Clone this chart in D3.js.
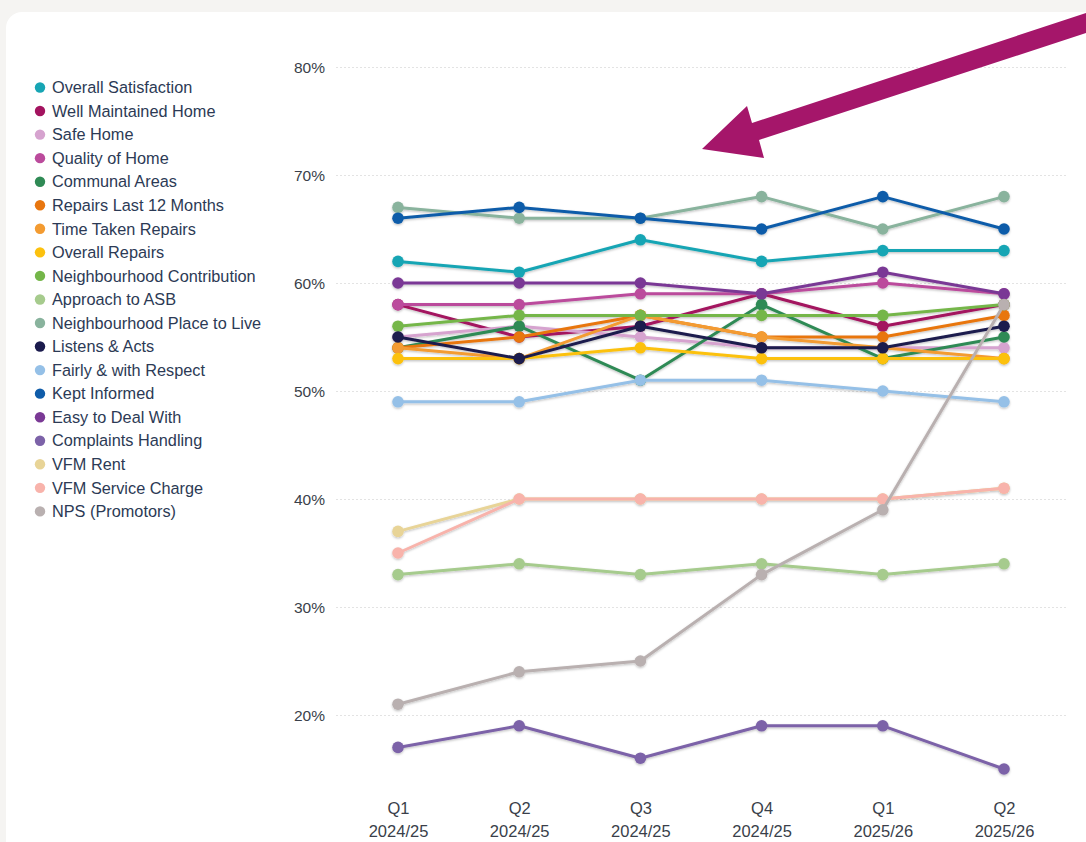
<!DOCTYPE html>
<html>
<head>
<meta charset="utf-8">
<script src="https://cdn.jsdelivr.net/npm/d3@7"></script>
<style>
  html, body { margin: 0; padding: 0; background: #f5f4f2; }
  svg { display: block; font-family: "Liberation Sans", Arial, sans-serif; }
</style>
</head>
<body>
<svg id="chart" width="1086" height="842"></svg>
<script>
// quarters along the x axis
var quarters = ['Q1', 'Q2', 'Q3', 'Q4', 'Q1', 'Q2'];
var years = ['2024/25', '2024/25', '2024/25', '2024/25', '2025/26', '2025/26'];

var yTicks = [20, 30, 40, 50, 60, 70, 80];

var seriesNames = [
    'Overall Satisfaction', 'Well Maintained Home', 'Safe Home', 'Quality of Home',
    'Communal Areas', 'Repairs Last 12 Months', 'Time Taken Repairs', 'Overall Repairs',
    'Neighbourhood Contribution', 'Approach to ASB', 'Neighbourhood Place to Live',
    'Listens & Acts', 'Fairly & with Respect', 'Kept Informed', 'Easy to Deal With',
    'Complaints Handling', 'VFM Rent', 'VFM Service Charge', 'NPS (Promotors)'
];

var seriesColors = [
    '#17a5b4', '#a3135f', '#d6a3cf', '#bb4b9c',
    '#2f8a55', '#e8760f', '#f39b31', '#fcc10e',
    '#74b649', '#a6cb8d', '#89b39d',
    '#1b1b4d', '#95c0e7', '#0f5ca9', '#7a3995',
    '#7c62a8', '#e8d497', '#f8b3ab', '#b9b0b0'
];

// values in %, one per quarter
var overallSatisfaction = [62, 61, 64, 62, 63, 63];
var wellMaintained      = [58, 55, 56, 59, 56, 58];
var safeHome            = [55, 56, 55, 54, 54, 54];
var qualityOfHome       = [58, 58, 59, 59, 60, 59];
var communalAreas       = [54, 56, 51, 58, 53, 55];
var repairsLast12       = [54, 55, 57, 55, 55, 57];
var timeTakenRepairs    = [54, 53, 57, 55, 54, 53];
var overallRepairs      = [53, 53, 54, 53, 53, 53];
var neighContribution   = [56, 57, 57, 57, 57, 58];
var approachASB         = [33, 34, 33, 34, 33, 34];
var neighPlaceToLive    = [67, 66, 66, 68, 65, 68];
var listensActs         = [55, 53, 56, 54, 54, 56];
var fairlyRespect       = [49, 49, 51, 51, 50, 49];
var keptInformed        = [66, 67, 66, 65, 68, 65];
var easyToDeal          = [60, 60, 60, 59, 61, 59];
var complaints          = [17, 19, 16, 19, 19, 15];
var vfmRent             = [37, 40, 40, 40, 40, 41];
var vfmServiceCharge    = [35, 40, 40, 40, 40, 41];
var npsPromotors        = [21, 24, 25, 33, 39, 58];

var seriesValues = [
    overallSatisfaction, wellMaintained, safeHome, qualityOfHome,
    communalAreas, repairsLast12, timeTakenRepairs, overallRepairs,
    neighContribution, approachASB, neighPlaceToLive,
    listensActs, fairlyRespect, keptInformed, easyToDeal,
    complaints, vfmRent, vfmServiceCharge, npsPromotors
];

var svg = d3.select('#chart');

// white card
svg.append('rect')
    .attr('x', 6).attr('y', 12)
    .attr('width', 1100).attr('height', 860)
    .attr('rx', 16)
    .attr('fill', '#ffffff');

var defs = svg.append('defs');
var shadow = defs.append('filter').attr('id', 'shadow')
    .attr('x', '-5%').attr('y', '-20%').attr('width', '110%').attr('height', '140%');
shadow.append('feDropShadow')
    .attr('dx', 0).attr('dy', 1.2).attr('stdDeviation', 0.8)
    .attr('flood-color', '#000').attr('flood-opacity', 0.25);

var x = d3.scalePoint().domain(d3.range(quarters.length)).range([398, 1004]);
var y = d3.scaleLinear().domain([20, 80]).range([715, 67]);

// gridlines + y labels
var yAxis = d3.axisLeft(y).tickValues(yTicks)
    .tickFormat(function(d) { return d + '%'; })
    .tickSize(-(1066 - 336)).tickPadding(10);
var gy = svg.append('g').attr('transform', 'translate(336,0)').call(yAxis);
gy.select('.domain').remove();
gy.selectAll('.tick line')
    .attr('stroke', '#e3e3e3').attr('stroke-width', 1.2)
    .attr('stroke-dasharray', '2,2');
gy.selectAll('.tick text')
    .attr('fill', '#3a3f4a').attr('font-size', 15.5)
    .attr('x', -11).attr('dy', '0.35em');

// x labels, two lines each
var xAxis = d3.axisBottom(x).tickSize(0).tickFormat(function() { return ''; });
var gx = svg.append('g').attr('transform', 'translate(0,790)').call(xAxis);
gx.select('.domain').remove();
gx.selectAll('.tick').each(function(d) {
    var t = d3.select(this).select('text')
        .attr('fill', '#3a3f4a').attr('font-size', 16.5)
        .attr('y', null).attr('dy', null);
    t.text(null);
    t.append('tspan').attr('x', 0).attr('y', 24).text(quarters[d]);
    t.append('tspan').attr('x', 0).attr('y', 47).text(years[d]);
});

// lines
var line = d3.line()
    .x(function(d, i) { return x(i); })
    .y(function(d) { return y(d); });

var plot = svg.append('g').attr('filter', 'url(#shadow)');
seriesValues.forEach(function(vals, s) {
    var g = plot.append('g');
    g.append('path')
        .datum(vals)
        .attr('d', line)
        .attr('fill', 'none')
        .attr('stroke', seriesColors[s])
        .attr('stroke-width', 3)
        .attr('stroke-linejoin', 'round');
    g.selectAll('circle').data(vals).enter().append('circle')
        .attr('cx', function(d, i) { return x(i); })
        .attr('cy', function(d) { return y(d); })
        .attr('r', 5.8)
        .attr('fill', seriesColors[s]);
});

// legend
var legend = svg.append('g');
var rows = legend.selectAll('g').data(seriesNames).enter().append('g')
    .attr('transform', function(d, i) { return 'translate(40,' + (87.5 + i * 23.55) + ')'; });
rows.append('circle').attr('r', 5.2).attr('fill', function(d, i) { return seriesColors[i]; });
rows.append('text')
    .attr('x', 12).attr('dy', '0.35em')
    .attr('font-size', 16.3).attr('fill', '#2c3a55')
    .text(function(d) { return d; });

// annotation arrow
svg.append('path')
    .attr('d', 'M1086,13 L1086,33 L759,140 L764,158 L702,149 L747,106 L752,123 Z')
    .attr('fill', '#a5166a');
</script>
</body>
</html>
